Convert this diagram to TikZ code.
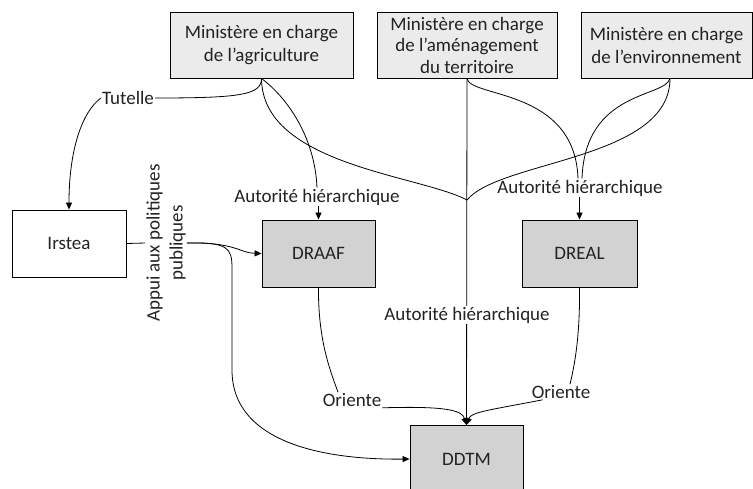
\documentclass[tikz,border=0pt]{standalone}
\usepackage{fontspec}
\setmainfont{Carlito}
\usetikzlibrary{arrows.meta}
\definecolor{minfill}{HTML}{EBEBEB}
\definecolor{orgfill}{HTML}{D2D2D2}
\definecolor{txt}{HTML}{222222}
\begin{document}
\begin{tikzpicture}[x=1pt,y=-1pt,
  font=\fontsize{19}{23}\selectfont,
  every node/.style={text=txt},
  minbox/.style={draw=black, line width=0.9pt, fill=minfill, align=center, minimum height=66pt, inner sep=1pt},
  orgbox/.style={draw=black, line width=0.9pt, fill=orgfill, minimum width=113pt, minimum height=67pt},
  lab/.style={inner sep=1pt},
  conn/.style={line width=0.8pt, draw=black},
  arr/.style={conn, -{Triangle[length=7pt,width=6pt]}}
]
\useasboundingbox (0,0) rectangle (753,488);
\fill[white] (0,0) rectangle (753,488);

% ministries
\node[minbox, minimum width=183pt] (agri) at (261.5,45) {Ministère en charge\\de l’agriculture};
\node[minbox, minimum width=180pt, font=\fontsize{19}{21.5}\selectfont] (amen) at (467,45) {Ministère en charge\\de l’aménagement\\du territoire};
\node[minbox, minimum width=171pt] (env) at (666.5,45) {Ministère en charge\\de l’environnement};

% organisations
\node[draw=black, line width=0.9pt, fill=white, minimum width=114pt, minimum height=67pt] (irstea) at (69,243.5) {Irstea};
\node[orgbox] (draaf) at (318.5,253.5) {DRAAF};
\node[orgbox, minimum width=115pt] (dreal) at (579.5,253.5) {DREAL};
\node[orgbox] (ddtm) at (466.5,459) {DDTM};

% labels
\node[lab] (tut) at (128,98) {Tutelle};
\node[lab] (ah1) at (317,197) {Autorité hiérarchique};
\node[lab] (ah2) at (580,188) {Autorité hiérarchique};
\node[lab] (or1) at (352,400) {Oriente};
\node[lab] (or2) at (561,392) {Oriente};
\node[lab, rotate=90, align=center] (appui) at (166,243) {Appui aux politiques\\publiques};
\coordinate (J) at (467,200);

% connectors from ministries
\draw[conn] (agri.south) .. controls (261.5,95) and (240,98) .. (tut.east);
\draw[arr] (tut.west) .. controls (82,112) and (69,150) .. (irstea.north);
\draw[conn] (agri.south) .. controls (290,100) and (315,140) .. (ah1.north);
\draw[conn] (agri.south) .. controls (262,165) and (420,175) .. (J);
\draw[conn] ([xshift=3.5pt]env.south) .. controls (670,160) and (500,160) .. (J);
\draw[conn] (amen.south) .. controls (470,98) and (575,88) .. ([xshift=-2pt]ah2.north);
\draw[conn] ([xshift=3.5pt]env.south) .. controls (665,98) and (585,90) .. ([xshift=2pt]ah2.north);
\draw[arr] (draaf.north |- ah1.south) -- (draaf.north);
\draw[arr] (dreal.north |- ah2.south) -- (dreal.north);
\draw[arr] (amen.south) -- (ddtm.north);
\node[lab, fill=white] (ah3) at (467,315) {Autorité hiérarchique};

% Irstea
\draw[conn] (irstea.east) -- (appui.north);
\draw[arr] (appui.south) .. controls (235,242) and (240,253) .. (draaf.west);
\draw[arr] (appui.south) .. controls (228,242) and (232,248) .. (232,268) -- (232,370) .. controls (232,445) and (330,460) .. (ddtm.west);

% Oriente
\draw[conn] (draaf.south) .. controls (318,340) and (330,370) .. ([xshift=-14pt]or1.north);
\draw[arr] (or1.south east) .. controls (445,406) and (462,410) .. (ddtm.north);
\draw[conn] (dreal.south) .. controls (580,330) and (576,360) .. ([xshift=9pt]or2.north);
\draw[arr] ([xshift=12pt]or2.south west) .. controls (490,410) and (471,412) .. (ddtm.north);
\end{tikzpicture}
\end{document}
